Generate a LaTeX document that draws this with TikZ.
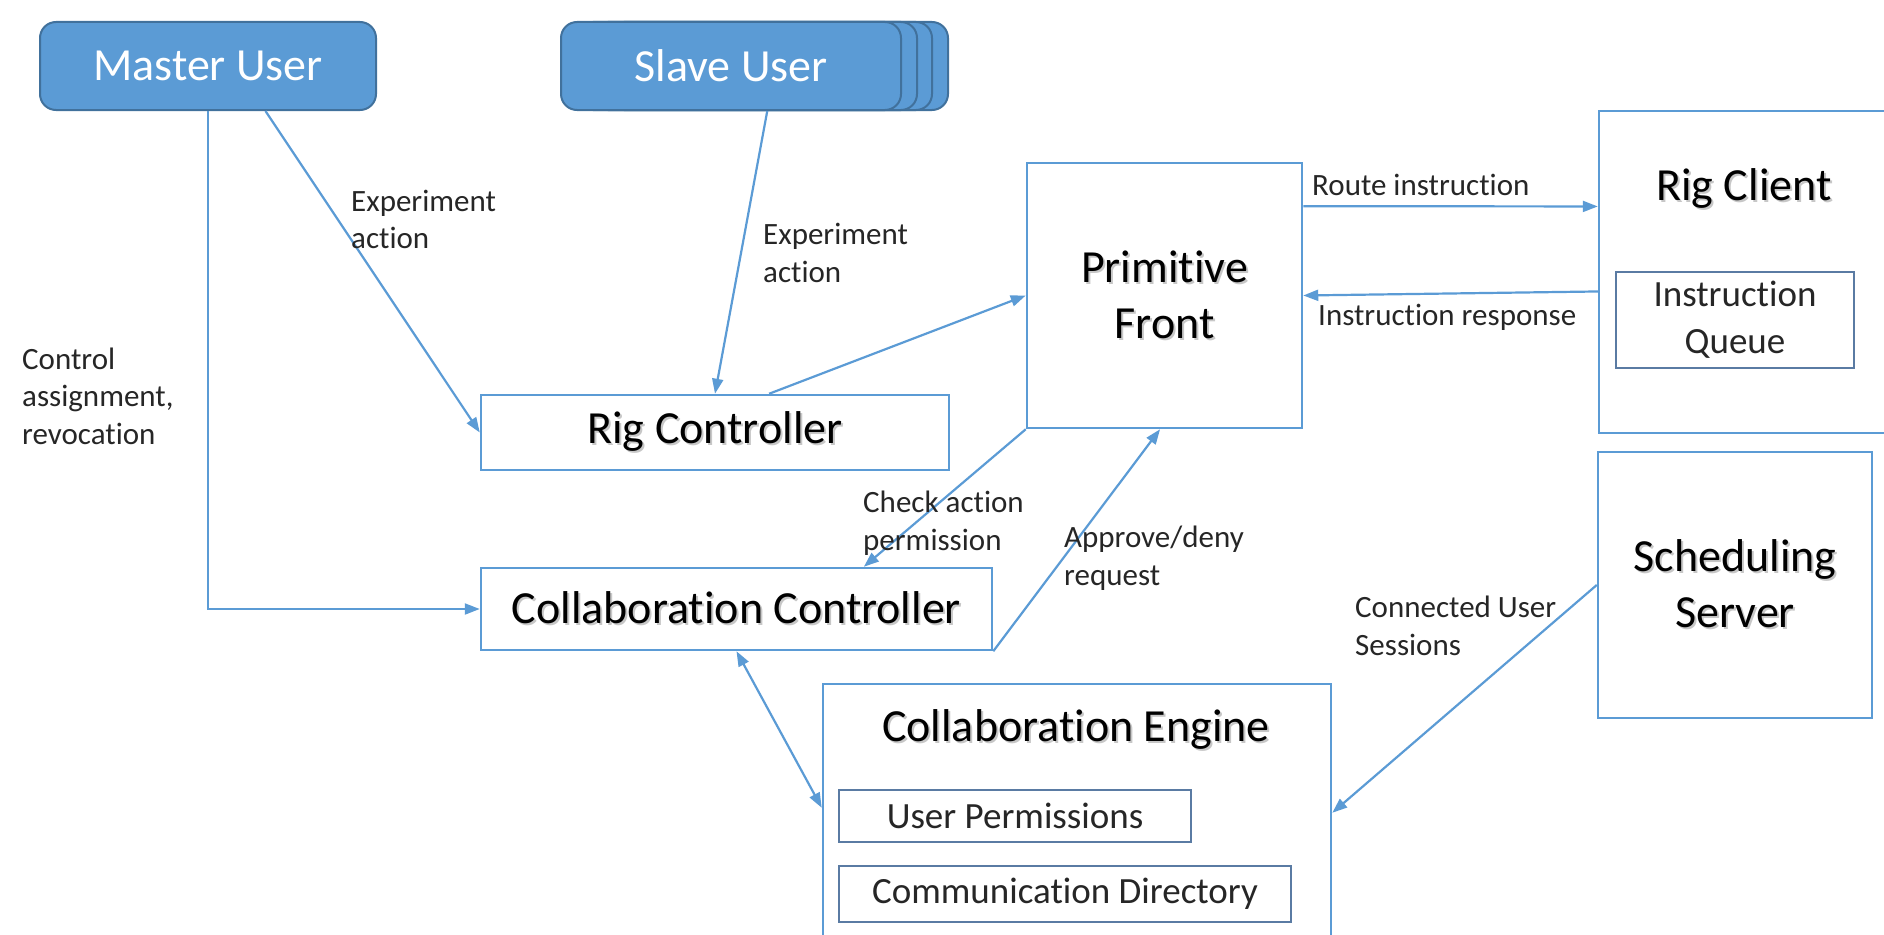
\documentclass[tikz,border=0pt]{standalone}
\usepackage{fontspec}
\setmainfont{Carlito}[Ligatures={NoCommon}]
\usetikzlibrary{arrows.meta,calc}
\definecolor{lineblue}{HTML}{5B9BD5}
\definecolor{userfill}{HTML}{5B9BD5}
\definecolor{useredge}{HTML}{41719C}
\definecolor{inneredge}{HTML}{5A7BA3}
\definecolor{labeltext}{HTML}{262626}
% title text with a soft grey drop shadow
\newcommand\shd[1]{\makebox[0pt][l]{\hspace{2pt}\raisebox{-2pt}{\textcolor{black!22}{#1}}}#1}
\begin{document}
\begin{tikzpicture}[x=1pt,y=-1pt,
  box/.style={draw=lineblue,line width=2.5pt,inner sep=0pt,fill=white},
  innerbox/.style={draw=inneredge,line width=2pt,inner sep=0pt,fill=white,
    font=\fontsize{37}{47}\selectfont,align=center,text=labeltext},
  userbox/.style={draw=useredge,line width=2pt,fill=userfill,rounded corners=16pt,
    inner sep=0pt,minimum width=340,minimum height=88,text=white,
    font=\fontsize{46}{56}\selectfont},
  title/.style={inner sep=0pt,align=center,font=\fontsize{46}{56}\selectfont},
  lbl/.style={inner sep=0pt,anchor=west,align=left,text=labeltext,
    font=\fontsize{31}{37.5}\selectfont},
  conn/.style={draw=lineblue,line width=2.2pt,-{Triangle[length=15pt,width=11pt]}},
  conn2/.style={draw=lineblue,line width=2.2pt,{Triangle[length=15pt,width=11pt]}-{Triangle[length=15pt,width=11pt]}}
]
\useasboundingbox (0,0) rectangle (1884,934);

% users
\node[userbox,minimum width=336] (mu) at (208,66) {Master User};
\node[userbox] (su3) at (778,66) {};
\node[userbox] (su2) at (762,66) {};
\node[userbox] (su1) at (747,66) {};
\node[userbox] (su) at (731,66) {Slave User};

% controllers
\node[box,title,minimum width=468,minimum height=75] (rc) at (715,432.5) {\shd{Rig Controller}};
\node[box,title,minimum width=511,minimum height=82] (cc) at (736.5,609) {\shd{Collaboration Controller}};

% primitive front
\node[box,title,minimum width=275,minimum height=265] (pf) at (1164.5,295.5) {\shd{Primitive}\\\shd{Front}};

% rig client with its queue
\node[box,minimum width=301,minimum height=322] (rcl) at (1749.5,272) {};
\node[title] (rcltitle) at (1744,189) {\shd{Rig Client}};
\node[innerbox,minimum width=238,minimum height=96] (iq) at (1735,320) {Instruction\\Queue};

% scheduling server
\node[box,title,minimum width=274,minimum height=266] (ss) at (1735,585) {\shd{Scheduling}\\\shd{Server}};

% collaboration engine
\node[box,minimum width=508,minimum height=276] (ce) at (1077,822) {};
\node[title] (cetitle) at (1076,730) {\shd{Collaboration Engine}};
\node[innerbox,minimum width=352,minimum height=52] (up) at (1015,816) {User Permissions};
\node[innerbox,minimum width=452,minimum height=56] (cd) at (1065,894) {Communication Directory};

% connectors
\draw[conn] (mu.south) |- (cc.west);
\draw[conn] ($(mu.south west)!0.67!(mu.south east)$) -- (rc.west);
\draw[conn] ($(su.south west)!0.606!(su.south east)$) -- (rc.north);
\draw[conn] ($(rc.north west)!0.615!(rc.north east)$) -- (pf.west);
\draw[conn] (pf.south west) -- ($(cc.north west)!0.748!(cc.north east)$);
\draw[conn] (cc.south east) -- ($(pf.south west)!0.484!(pf.south east)$);
\draw[conn] ($(pf.north east)!0.166!(pf.south east)$) -- ($(rcl.north west)!0.298!(rcl.south west)$);
\draw[conn] ($(rcl.north west)!0.56!(rcl.south west)$) -- ($(pf.north east)!0.50!(pf.south east)$);
\draw[conn] (ss.west) -- ($(ce.north east)!0.467!(ce.south east)$);
\draw[conn2] (cc.south) -- ($(ce.north west)!0.449!(ce.south west)$);

% connector labels
\node[lbl] (l1) at (351,219.5) {Experiment\\action};
\node[lbl] (l2) at (763,253) {Experiment\\action};
\node[lbl] (l3) at (22,396) {Control\\assignment,\\revocation};
\node[lbl] (l4) at (863,523) {Check action\\permission};
\node[lbl] (l5) at (1064,558) {Approve/deny\\request};
\node[lbl] (l6) at (1312,185) {Route instruction};
\node[lbl] (l7) at (1318,317) {Instruction response};
\node[lbl] (l8) at (1355,626) {Connected User\\Sessions};
\end{tikzpicture}
\end{document}
